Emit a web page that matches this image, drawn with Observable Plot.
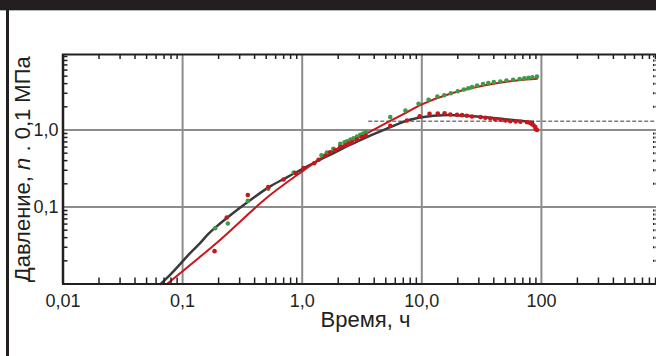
<!DOCTYPE html>
<html>
<head>
<meta charset="utf-8">
<script src="https://cdn.jsdelivr.net/npm/d3@7"></script>
<script src="https://cdn.jsdelivr.net/npm/@observablehq/plot@0.6"></script>
<style>
  html, body { margin: 0; padding: 0; background: #fff; }
  #wrap { position: relative; width: 656px; height: 356px; overflow: hidden; font-family: "Liberation Sans", Arial, sans-serif; }
  #topbar { position: absolute; left: 0; top: 0; width: 656px; height: 10px; background: #231f20; border-bottom: 1px solid #b5b5b5; }
  #leftbar { position: absolute; left: 6px; top: 0; width: 2.5px; height: 356px; background: #231f20; }
  #chart svg, #frame svg { display: block; }
  #frame { position: absolute; left: 0; top: 0; }
</style>
</head>
<body>
<div id="wrap">
  <div id="chart"></div>
  <div id="frame"></div>
  <div id="topbar"></div>
  <div id="leftbar"></div>
</div>
<script>
// ---- data (time, h ; pressure, x0.1 MPa) ----
const darkTime = [0.0657, 0.08, 0.095, 0.115, 0.14, 0.165, 0.193, 0.24, 0.3, 0.4, 0.54, 0.75, 1.0, 1.4, 1.83, 2.5, 3.48, 4.5, 5.45, 6.5, 7.5, 8.5, 10, 12.5, 15, 19, 23.5, 30, 40, 55, 70, 85];
const darkP    = [0.01, 0.0135, 0.018, 0.025, 0.034, 0.045, 0.056, 0.074, 0.097, 0.135, 0.185, 0.245, 0.31, 0.41, 0.5, 0.64, 0.81, 0.96, 1.09, 1.22, 1.32, 1.39, 1.46, 1.53, 1.56, 1.56, 1.53, 1.49, 1.43, 1.36, 1.31, 1.27];

const redLineTime = [0.074, 0.2, 0.5, 1.0, 1.6, 2.5, 3.5, 5.5, 7.5, 10, 17.3, 33, 62, 92];
const redLineP    = [0.01, 0.036, 0.13, 0.29, 0.48, 0.69, 0.91, 1.32, 1.7, 2.15, 2.95, 3.78, 4.4, 4.62];

const greenTime = [0.187, 0.239, 0.351, 0.52, 0.85, 1.45, 1.61, 1.82, 2.08, 2.26, 2.37, 2.53, 2.69, 2.87, 3.06, 3.23, 3.4, 5.45, 7.3, 9.4, 11.4, 13.5, 15.4, 17.5, 20, 22.5, 24.5, 26.3, 29, 32.5, 36, 40, 45.4, 51, 58, 65.8, 72, 78, 84, 91.8];
const greenP    = [0.053, 0.061, 0.12, 0.173, 0.28, 0.47, 0.51, 0.57, 0.66, 0.69, 0.715, 0.75, 0.78, 0.82, 0.866, 0.9, 0.94, 1.47, 1.79, 2.19, 2.47, 2.72, 2.83, 3.0, 3.19, 3.36, 3.48, 3.6, 3.78, 3.95, 4.08, 4.18, 4.26, 4.4, 4.5, 4.6, 4.68, 4.76, 4.85, 4.95];

const redDotTime = [0.185, 0.234, 0.351, 0.52, 0.698, 0.88, 1.03, 1.26, 1.37, 1.56, 1.71, 1.89, 2.08, 2.29, 2.44, 2.6, 2.87, 3.16, 3.4, 5.45, 7.5, 9.6, 11.6, 13.6, 15.5, 17.3, 19.7, 21.7, 23.8, 26.3, 30.9, 34, 37.4, 41, 45.4, 50, 55, 61, 66.7, 75.8, 80, 83.3, 86, 88.9, 91.8, 89.5];
const redDotP    = [0.0267, 0.073, 0.143, 0.181, 0.228, 0.275, 0.32, 0.37, 0.41, 0.467, 0.515, 0.55, 0.6, 0.63, 0.66, 0.69, 0.75, 0.81, 0.85, 1.13, 1.33, 1.51, 1.62, 1.64, 1.65, 1.59, 1.58, 1.56, 1.53, 1.5, 1.47, 1.44, 1.41, 1.38, 1.36, 1.33, 1.3, 1.29, 1.28, 1.26, 1.24, 1.2, 1.15, 1.09, 1.0, 1.03];

const refLevel = 1.30;      // dashed reference level
const refStart = 3.6;       // dashed line starts at this time

// ---- axis ticks / labels ----
const xLabelTicks = [0.01, 0.1, 1, 10, 100];
const xTickLabels = ["0,01", "0,1", "1,0", "10,0", "100"];
const yLabelTicks = [0.1, 1];
const yTickLabels = ["0,1", "1,0"];
const xGrid = [0.1, 1, 10, 100];
const yGrid = [0.1, 1];
const minorMult = [2, 3, 4, 5, 6, 7, 8, 9];
const xDecades = [0.01, 0.1, 1, 10, 100];
const yDecades = [0.01, 0.1, 1];
const xMinor = xDecades.flatMap(d => minorMult.map(m => +(m * d).toPrecision(3)));
const yMinor = yDecades.flatMap(d => minorMult.map(m => +(m * d).toPrecision(3)));

const yAxisTitle = ["Давление, ", "n", " . 0,1 МПа"];
const xAxisTitle = "Время, ч";

const dark = darkTime.map((t, i) => ({t, p: darkP[i]}));
const redLine = redLineTime.map((t, i) => ({t, p: redLineP[i]}));
const green = greenTime.map((t, i) => ({t, p: greenP[i]}));
const redDots = redDotTime.map((t, i) => ({t, p: redDotP[i]}));

const xFmt = new Map(xLabelTicks.map((t, i) => [t, xTickLabels[i]]));
const yFmt = new Map(yLabelTicks.map((t, i) => [t, yTickLabels[i]]));

const ink = "#231f20";
const xMin = 0.01, xMax = 1000;
const yMin = 0.01, yTop = 9.56;

const base = {
  width: 656,
  height: 356,
  marginLeft: 62,
  marginRight: 0,
  marginTop: 54,
  marginBottom: 72.5,
  style: {fontFamily: "'Liberation Sans', Arial, sans-serif", fontSize: "18px", color: ink, background: "transparent"},
  x: {type: "log", domain: [xMin, xMax], range: [62.5, 660.5], label: null},
  y: {type: "log", domain: [yMin, yTop], range: [283.5, 54], label: null}
};

// main layer: grid, data, labels
const chart = Plot.plot({
  ...base,
  marks: [
    Plot.ruleX(xGrid, {stroke: "#8c8c8c", strokeWidth: 2}),
    Plot.ruleY(yGrid, {stroke: "#8c8c8c", strokeWidth: 2}),
    Plot.ruleY([refLevel], {x1: refStart, x2: xMax, stroke: "#7a7a7a", strokeWidth: 1.5, strokeDasharray: "4,2"}),
    Plot.axisX(xLabelTicks, {anchor: "bottom", tickSize: 0, tickPadding: 10, fontSize: 18, tickFormat: d => xFmt.get(d), label: null}),
    Plot.axisY(yLabelTicks, {anchor: "left", tickSize: 0, tickPadding: 4, fontSize: 18, tickFormat: d => yFmt.get(d), label: null}),
    Plot.line(dark, {x: "t", y: "p", stroke: "#3a3a3a", strokeWidth: 2.5, curve: "catmull-rom"}),
    Plot.line(redLine, {x: "t", y: "p", stroke: "#c8161d", strokeWidth: 2, curve: "catmull-rom"}),
    Plot.dot(green, {x: "t", y: "p", r: 2.3, fill: "#3f9a45", stroke: "none"}),
    Plot.dot(redDots, {x: "t", y: "p", r: 2.3, fill: "#c8161d", stroke: "none"}),
    Plot.text([yAxisTitle.join("")], {frameAnchor: "left", dx: -40, rotate: -90, textAnchor: "middle", fontSize: 22, fill: ink}),
    Plot.text([xAxisTitle], {frameAnchor: "bottom", dx: 6, dy: 43, textAnchor: "middle", fontSize: 22, fill: ink})
  ]
});

// frame layer: border and inward minor ticks, same scales
const frame = Plot.plot({
  ...base,
  x: {...base.x, axis: null},
  y: {...base.y, axis: null},
  marks: [
    Plot.ruleX([xMin], {stroke: ink, strokeWidth: 2.5}),
    Plot.ruleY([yMin, yTop], {stroke: ink, strokeWidth: 2}),
    Plot.ruleX(xMinor, {x: d => d, y1: yMin, y2: yMin, insetTop: -6, stroke: ink, strokeWidth: 1.5}),
    Plot.ruleX(xMinor, {x: d => d, y1: yTop, y2: yTop, insetBottom: -5, stroke: ink, strokeWidth: 1.5}),
    Plot.ruleY(yMinor, {y: d => d, x1: xMin, x2: xMin, insetRight: -5, stroke: ink, strokeWidth: 1.5}),
    Plot.ruleY(yMinor, {y: d => d, x1: xMax, x2: xMax, insetLeft: -7.5, stroke: ink, strokeWidth: 2, strokeDasharray: "1.5,1"})
  ]
});

// italic "n" in the y title
d3.select(chart).selectAll("text").filter(function() { return this.textContent === yAxisTitle.join(""); }).each(function() {
  const t = d3.select(this);
  t.text(null);
  yAxisTitle.forEach((s, i) => {
    const sp = t.append("tspan").text(s);
    if (i === 1) sp.attr("font-style", "italic");
  });
});

document.getElementById("chart").appendChild(chart);
document.getElementById("frame").appendChild(frame);
</script>
</body>
</html>
